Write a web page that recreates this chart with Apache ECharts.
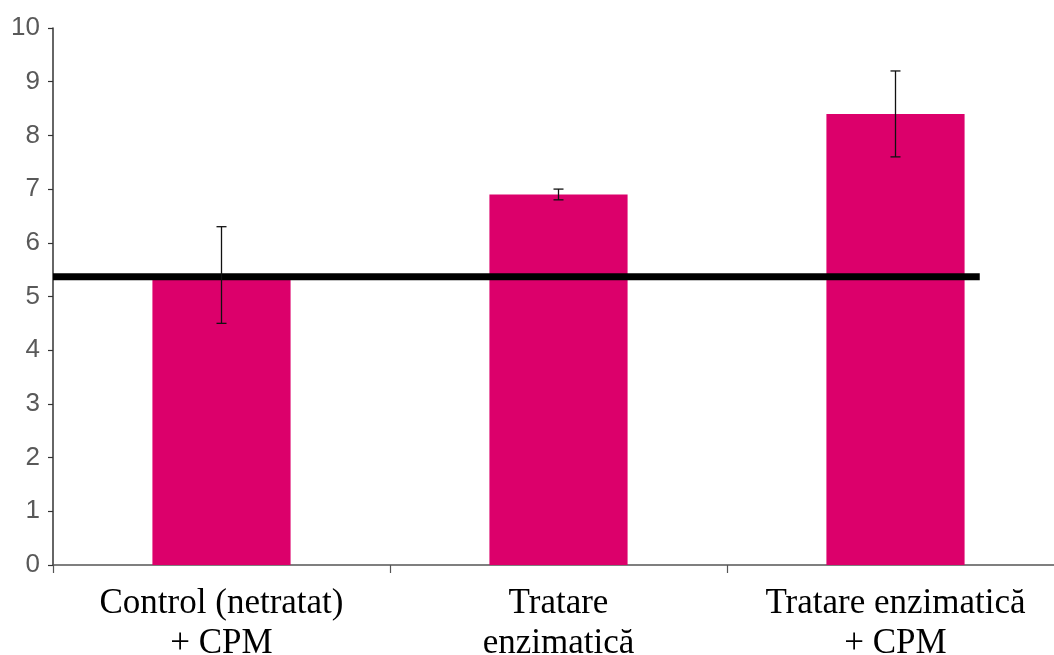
<!DOCTYPE html>
<html>
<head>
<meta charset="utf-8">
<script src="https://cdn.jsdelivr.net/npm/echarts@6/dist/echarts.min.js"></script>
<style>
  html, body { margin: 0; padding: 0; background: #fff; overflow: hidden; }
  /* a little wider than the window: the x axis runs off the right edge in the original */
  #chart-container { width: 1064px; height: 655px; }
</style>
</head>
<body>
<div id="chart-container"></div>
<script>
var dom = document.getElementById('chart-container');
var myChart = echarts.init(dom, null, { renderer: 'canvas' });

// data
const categories = ['Control (netratat)\n+ CPM', 'Tratare\nenzimatică', 'Tratare enzimatică\n+ CPM'];
const values = [5.35, 6.9, 8.4];
const errLow = [4.5, 6.8, 7.6];
const errHigh = [6.3, 7.0, 9.2];
const refLevel = 5.37;      // thick black reference line
const refEnd = 2.75;        // line stops before the last category ends (in category units)
const yTicks = [0, 10, 1];  // min, max, interval

const errData = categories.map((c, i) => [i, errLow[i], errHigh[i]]);

option = {
  animation: false,
  grid: { left: 53, top: 28, right: 0, height: 537, outerBoundsMode: 'none', containLabel: false },
  xAxis: [
    {
      type: 'category',
      data: categories,
      boundaryGap: true,
      axisLine: { lineStyle: { color: '#555', width: 1.5 } },
      axisTick: { show: true, interval: 0, length: 8, alignWithLabel: false, lineStyle: { color: '#555', width: 1.2 } },
      axisLabel: {
        interval: 0,
        color: '#000',
        fontFamily: 'Liberation Serif',
        fontSize: 35,
        lineHeight: 40,
        margin: 19
      }
    },
    {
      // hidden helper axis so the reference line can stop part way
      type: 'value',
      min: 0,
      max: 3,
      show: false
    }
  ],
  yAxis: {
    type: 'value',
    min: yTicks[0],
    max: yTicks[1],
    interval: yTicks[2],
    axisLine: { show: true, lineStyle: { color: '#333', width: 1.5 } },
    axisTick: { show: true, length: 5, lineStyle: { color: '#333', width: 1.2 } },
    splitLine: { show: false },
    axisLabel: {
      color: '#595959',
      fontFamily: 'Liberation Sans',
      fontSize: 26,
      margin: 13
    }
  },
  series: [
    {
      name: 'bars',
      type: 'bar',
      data: values,
      barWidth: '41%',
      itemStyle: { color: '#DC006B' },
      z: 2
    },
    {
      name: 'ref',
      type: 'line',
      xAxisIndex: 1,
      data: [[0, refLevel], [refEnd, refLevel]],
      showSymbol: false,
      lineStyle: { color: '#000', width: 7 },
      z: 3
    },
    {
      name: 'errors',
      type: 'custom',
      data: errData,
      z: 4,
      renderItem: function (params, api) {
        var lo = api.coord([api.value(0), api.value(1)]);
        var hi = api.coord([api.value(0), api.value(2)]);
        var cap = 5;
        var style = { stroke: '#111', lineWidth: 1.3 };
        return {
          type: 'group',
          children: [
            { type: 'line', shape: { x1: hi[0], y1: hi[1], x2: lo[0], y2: lo[1] }, style: style },
            { type: 'line', shape: { x1: hi[0] - cap, y1: hi[1], x2: hi[0] + cap, y2: hi[1] }, style: style },
            { type: 'line', shape: { x1: lo[0] - cap, y1: lo[1], x2: lo[0] + cap, y2: lo[1] }, style: style }
          ]
        };
      }
    }
  ]
};

myChart.setOption(option);
</script>
</body>
</html>
